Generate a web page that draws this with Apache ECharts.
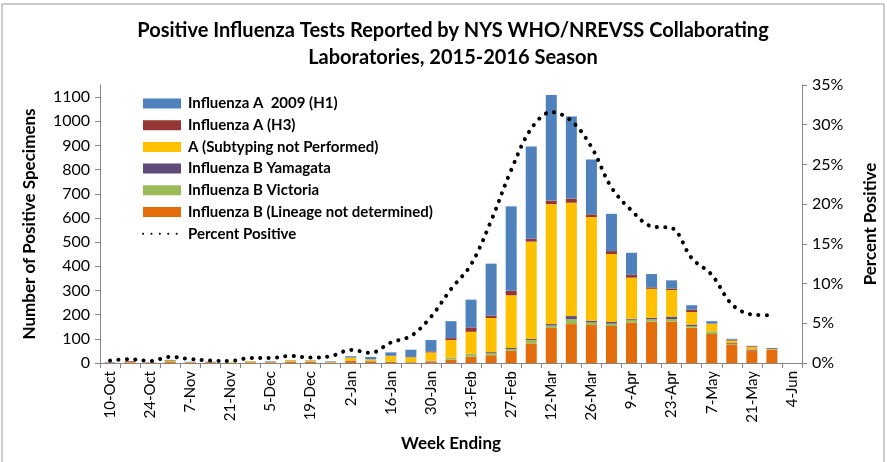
<!DOCTYPE html>
<html>
<head>
<meta charset="utf-8">
<script src="https://cdn.jsdelivr.net/npm/echarts@6/dist/echarts.min.js"></script>
<style>
  html, body { margin: 0; padding: 0; background: #fff; }
  #chart { width: 887px; height: 462px; }
</style>
</head>
<body>
<div id="chart"></div>
<script>
// week ending dates, 2015-2016 season
const weeks = [
  '10-Oct', '17-Oct', '24-Oct', '31-Oct', '7-Nov', '14-Nov', '21-Nov', '28-Nov',
  '5-Dec', '12-Dec', '19-Dec', '26-Dec', '2-Jan', '9-Jan', '16-Jan', '23-Jan',
  '30-Jan', '6-Feb', '13-Feb', '20-Feb', '27-Feb', '5-Mar', '12-Mar', '19-Mar',
  '26-Mar', '2-Apr', '9-Apr', '16-Apr', '23-Apr', '30-Apr', '7-May', '14-May',
  '21-May', '28-May', '4-Jun'
]

const fluAH1 = [1, 0, 0, 3, 1, 0, 0, 1, 2, 1, 1, 2, 5, 10, 14, 30, 47, 70, 115, 215, 349, 382, 437, 340, 227, 154, 91, 55, 34, 18, 10, 4, 2, 4, 0]
const fluAH3 = [1, 3, 1, 1, 1, 2, 0, 0, 0, 1, 1, 0, 1, 0, 1, 1, 4, 8, 18, 10, 19, 12, 15, 17, 11, 12, 12, 6, 6, 10, 1, 3, 3, 0, 0]
const fluANotSubtyped = [0, 1, 1, 5, 1, 1, 2, 4, 3, 5, 4, 3, 11, 7, 23, 20, 34, 73, 91, 141, 218, 403, 496, 469, 429, 281, 170, 120, 110, 52, 32, 11, 10, 2, 0]
const fluBYamagata = [0, 0, 0, 0, 0, 0, 0, 0, 0, 0, 0, 0, 0, 1, 0, 0, 1, 1, 1, 4, 4, 4, 6, 12, 7, 7, 4, 6, 10, 6, 1, 4, 4, 0, 0]
const fluBVictoria = [0, 0, 0, 0, 0, 0, 0, 0, 0, 0, 0, 1, 1, 1, 1, 1, 2, 7, 11, 9, 8, 14, 10, 21, 11, 10, 12, 10, 11, 7, 9, 2, 1, 0, 0]
const fluBNotDetermined = [1, 3, 1, 4, 2, 2, 1, 3, 3, 4, 5, 2, 10, 6, 5, 3, 7, 14, 26, 32, 50, 81, 145, 161, 157, 153, 167, 171, 171, 146, 120, 76, 51, 56, 0]
const percentPositive = [0.30, 0.49, 0.25, 0.76, 0.50, 0.30, 0.25, 0.63, 0.63, 0.89, 0.68, 0.85, 1.65, 1.27, 2.58, 3.4, 5.8, 9.3, 12.4, 17.9, 24.3, 29.5, 31.6, 30.5, 27.2, 22.1, 19.2, 17.2, 17.0, 13.2, 11.1, 7.4, 6.1, 6.0, null]

const font = 'Lato'
const axisGray = '#868686'

const chart = echarts.init(document.getElementById('chart'))

function barSeries(name, color, data) {
  return {
    name: name,
    type: 'bar',
    stack: 'flu',
    barWidth: 11,
    color: color,
    itemStyle: { color: color },
    data: data
  }
}

chart.setOption({
  animation: false,
  textStyle: { fontFamily: font },
  graphic: [
    {
      type: 'rect',
      shape: { x: 2, y: 4, width: 882, height: 470 },
      style: { fill: 'none', stroke: '#9a9a9a', lineWidth: 1 },
      silent: true
    }
  ],
  title: {
    text: 'Positive Influenza Tests Reported by NYS WHO/NREVSS Collaborating\nLaboratories, 2015-2016 Season',
    left: 448,
    top: 12,
    textAlign: 'center',
    textStyle: {
      fontFamily: font,
      fontSize: 20,
      fontWeight: 'bold',
      color: '#000',
      lineHeight: 27
    }
  },
  legend: {
    orient: 'vertical',
    left: 137,
    top: 91,
    itemWidth: 38,
    itemHeight: 10,
    itemGap: 6.7,
    textStyle: {
      fontFamily: font,
      fontSize: 15,
      lineHeight: 15,
      fontWeight: 'bold',
      color: '#000',
      padding: [0, 0, 0, 2]
    },
    data: [
      { name: 'Influenza A  2009 (H1)', icon: 'rect' },
      { name: 'Influenza A (H3)', icon: 'rect' },
      { name: 'A (Subtyping not Performed)', icon: 'rect' },
      { name: 'Influenza B Yamagata', icon: 'rect' },
      { name: 'Influenza B Victoria', icon: 'rect' },
      { name: 'Influenza B (Lineage not determined)', icon: 'rect' },
      { name: 'Percent Positive', itemStyle: { opacity: 0 } }
    ]
  },
  grid: {
    left: 100,
    right: 78,
    top: 85,
    bottom: 99
  },
  xAxis: {
    type: 'category',
    data: weeks,
    boundaryGap: true,
    name: 'Week Ending',
    nameLocation: 'middle',
    nameGap: 72,
    nameTextStyle: { fontFamily: font, fontSize: 17, fontWeight: 'bold', color: '#000' },
    axisLine: { lineStyle: { color: axisGray } },
    axisTick: { show: true, interval: 0, length: 5, lineStyle: { color: axisGray } },
    axisLabel: {
      interval: 1,
      rotate: 90,
      fontFamily: font,
      fontSize: 15,
      color: '#000',
      margin: 8
    }
  },
  yAxis: [
    {
      type: 'value',
      min: 0,
      max: 1150,
      interval: 100,
      name: 'Number of Positive Specimens',
      nameLocation: 'middle',
      nameGap: 62,
      nameTextStyle: { fontFamily: font, fontSize: 17, fontWeight: 'bold', color: '#000' },
      splitLine: { show: false },
      axisLine: { show: true, lineStyle: { color: axisGray } },
      axisTick: { show: true, length: 5, lineStyle: { color: axisGray } },
      axisLabel: {
        showMaxLabel: false,
        formatter: (v) => String(v),
        fontFamily: font,
        fontSize: 16,
        color: '#000',
        margin: 10
      }
    },
    {
      type: 'value',
      min: 0,
      max: 35,
      interval: 5,
      position: 'right',
      name: 'Percent Positive',
      nameLocation: 'middle',
      nameGap: 60,
      nameRotate: 90,
      nameTextStyle: { fontFamily: font, fontSize: 17, fontWeight: 'bold', color: '#000' },
      splitLine: { show: false },
      axisLine: { show: true, lineStyle: { color: axisGray } },
      axisTick: { show: true, length: 5, lineStyle: { color: axisGray } },
      axisLabel: { formatter: '{value}%', fontFamily: font, fontSize: 16, color: '#000', margin: 10 }
    }
  ],
  series: [
    barSeries('Influenza B (Lineage not determined)', '#E46C0A', fluBNotDetermined),
    barSeries('Influenza B Victoria', '#9BBB59', fluBVictoria),
    barSeries('Influenza B Yamagata', '#604A7B', fluBYamagata),
    barSeries('A (Subtyping not Performed)', '#FFC000', fluANotSubtyped),
    barSeries('Influenza A (H3)', '#953735', fluAH3),
    barSeries('Influenza A  2009 (H1)', '#4F81BD', fluAH1),
    {
      name: 'Percent Positive',
      type: 'line',
      yAxisIndex: 1,
      smooth: 0.35,
      symbol: 'none',
      color: '#000',
      lineStyle: {
        color: '#000',
        width: 4,
        type: [0.1, 8.3],
        cap: 'round'
      },
      data: percentPositive
    }
  ]
})
</script>
</body>
</html>
